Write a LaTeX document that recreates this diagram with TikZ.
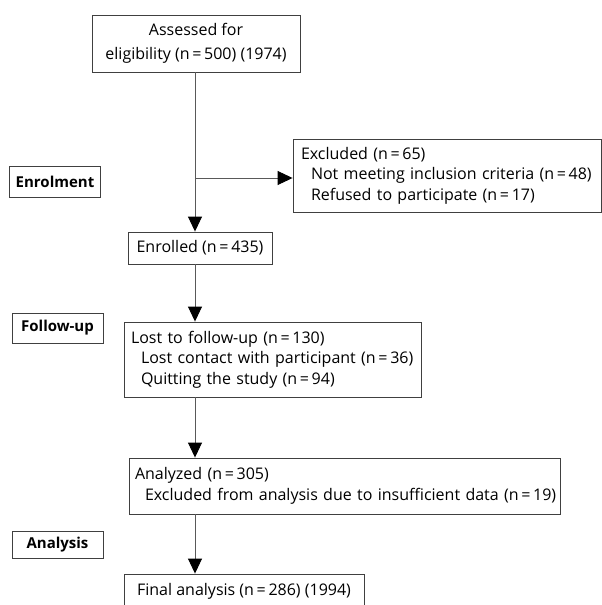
\documentclass[tikz,border=0pt]{standalone}
\usepackage{fontspec}
\setmainfont{Open Sans}
\usetikzlibrary{arrows.meta}

\newcommand{\indentsub}{\hspace*{10pt}}

\tikzset{
  flowbox/.style={draw=black!75, line width=0.9pt, inner xsep=7pt, inner ysep=0pt,
    font=\fontsize{16}{20.5}\selectfont},
  stagebox/.style={draw=black!75, line width=0.9pt, inner sep=0pt, minimum width=91pt,
    font=\fontsize{15}{20}\selectfont\bfseries},
  flowarrow/.style={draw=black!65, line width=0.9pt,
    -{Triangle[width=14pt,length=15pt,color=black]}}
}

\begin{document}
\begin{tikzpicture}[x=1pt,y=-1pt]

\useasboundingbox (0,0) rectangle (602,605);
	% stages on the left
	\node[stagebox, minimum height=31pt] (enrolment) at (55,181.5) {Enrolment};
	\node[stagebox, minimum height=30pt] (followup) at (57.5,328) {Follow-up};
	\node[stagebox, minimum height=27pt] (analysis) at (57.5,544.5) {Analysis};

	% main flow
	\node[flowbox, minimum width=208pt, minimum height=57pt, align=center,
		font=\fontsize{16}{23.5}\selectfont] (assess) at (196,43.5)
		{Assessed for\\eligibility (n\,=\,500) (1974)};
	\node[flowbox, text width=292pt, inner xsep=8pt, minimum height=73pt, align=left] (excluded) at (447,175.5)
		{Excluded (n\,=\,65)\\
		 \indentsub Not meeting inclusion criteria (n\,=\,48)\\
		 \indentsub Refused to participate (n\,=\,17)};
	\node[flowbox, minimum width=144pt, minimum height=32pt] (enrolled) at (200,248)
		{Enrolled (n\,=\,435)};
	\node[flowbox, text width=283pt, minimum height=75pt, align=left] (lost) at (272.5,359.5)
		{Lost to follow-up (n\,=\,130)\\
		 \indentsub Lost contact with participant (n\,=\,36)\\
		 \indentsub Quitting the study (n\,=\,94)};
	\node[flowbox, text width=423pt, inner xsep=4pt, minimum height=56pt, align=left] (analyzed) at (344.5,486)
		{\hspace*{2pt}Analyzed (n\,=\,305)\\
		 \hspace*{12pt}\mbox{Excluded from analysis due to insufficient data (n\,=\,19)}};
	\node[flowbox, minimum width=240pt, minimum height=34pt] (final) at (244,591)
		{Final analysis (n\,=\,286) (1994)};

	% connectors
	\coordinate (trunk) at (195,0);
	\coordinate (branch) at (195,178);
	\draw[flowarrow] (assess.south -| trunk) -- (enrolled.north -| trunk);
	\draw[flowarrow] (branch) -- (branch -| excluded.west);
	\draw[flowarrow] (enrolled.south -| trunk) -- (lost.north -| trunk);
	\draw[flowarrow] (lost.south -| trunk) -- (analyzed.north -| trunk);
	\draw[flowarrow] (analyzed.south -| trunk) -- (final.north -| trunk);

\end{tikzpicture}
\end{document}
